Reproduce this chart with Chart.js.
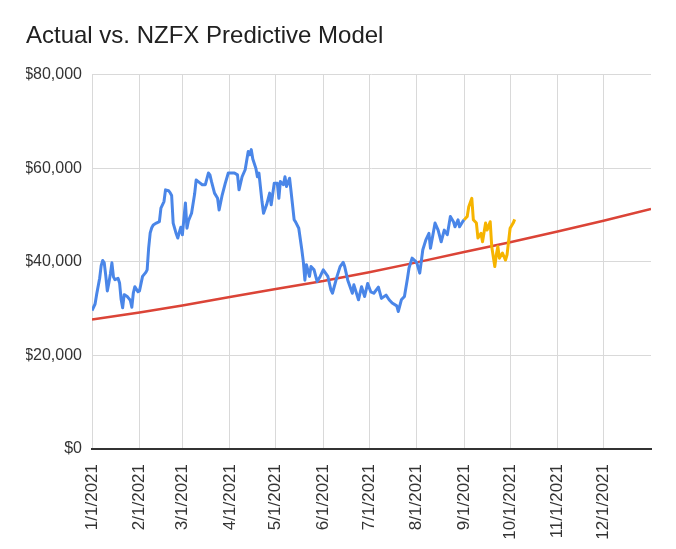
<!DOCTYPE html>
<html>
<head>
<meta charset="utf-8">
<script src="https://cdn.jsdelivr.net/npm/chart.js@4"></script>
<style>
  html, body { margin: 0; padding: 0; background: #fff; }
  #wrap { width: 676px; height: 549px; }
</style>
</head>
<body>
<div id="wrap"><canvas id="myChart" width="676" height="549"></canvas></div>
<script>
// x is the day of the year 2021 (0 = 1/1/2021)
const monthDays = [0, 31, 59, 90, 120, 151, 181, 212, 243, 273, 304, 334];
const monthLabels = ['1/1/2021', '2/1/2021', '3/1/2021', '4/1/2021', '5/1/2021', '6/1/2021',
  '7/1/2021', '8/1/2021', '9/1/2021', '10/1/2021', '11/1/2021', '12/1/2021'];
const yTicks = [0, 20000, 40000, 60000, 80000];

// actual price (blue)
const actualDays = [0, 2, 3, 5, 6, 7, 8, 9, 10, 11, 12, 13, 14, 15, 17, 18, 19, 20, 21, 23, 24, 25, 26, 27, 28, 30,
  31, 33, 35, 36, 37, 38, 39, 40, 42, 44, 45, 47, 48, 50, 51, 52, 53, 55, 56, 57, 58, 59, 61, 62, 63, 65, 67, 68,
  70, 72, 74, 76, 77, 78, 80, 82, 83, 85, 87, 89, 91, 93, 95, 96, 98, 100, 102, 103, 104, 105, 107, 108, 109, 111,
  112, 114, 116, 117, 119, 121, 122, 123, 125, 126, 127, 129, 130, 132, 133, 135, 137, 138, 139, 140, 142, 143, 145,
  147, 149, 151, 154, 156, 157, 160, 162, 164, 165, 167, 170, 171, 174, 176, 178, 180, 182, 184, 187, 189, 192, 194,
  196, 199, 200, 202, 204, 206, 207, 209, 212, 214, 216, 218, 220, 221, 224, 226, 228, 230, 232, 234, 236, 237, 239,
  240, 242, 243];
const actualValues = [29600, 31000, 33000, 36500, 39200, 40300, 39800, 37000, 33800, 35500, 37400, 39800, 36800,
  36200, 36500, 35500, 32000, 30200, 33000, 32600, 32200, 31800, 30300, 33400, 34700, 33600, 33800, 36900, 37700,
  38300, 43000, 46200, 47300, 47900, 48300, 48600, 51500, 52900, 55400, 55200, 54800, 54200, 48300, 46000, 45100,
  46300, 47400, 45800, 52600, 47200, 48800, 50400, 54500, 57500, 57000, 56500, 56500, 59000, 58600, 57200, 54700,
  53600, 51100, 54300, 56800, 59000, 59000, 59000, 58600, 55400, 58200, 59700, 63600, 62900, 64000, 62000, 60000,
  58200, 59000, 52900, 50400, 52200, 54700, 52200, 56800, 56800, 53600, 57200, 56500, 58200, 56100, 57900, 55000,
  49000, 48500, 47200, 42600, 40000, 36100, 39400, 36900, 39000, 38300, 35800, 36900, 38300, 36900, 34000, 33300,
  36900, 39000, 39900, 39000, 36100, 33300, 35100, 31900, 34700, 32600, 35400, 33600, 33300, 34600, 32200, 32900,
  31900, 31200, 30600, 29400, 31900, 32600, 36500, 38700, 40800, 39900, 37600, 42600, 44700, 46100, 42900, 48300,
  46800, 44300, 46800, 45800, 49700, 48600, 47500, 49000, 47500, 48600, 49000];

// latest price (yellow)
const recentDays = [243, 245, 246, 248, 249, 251, 252, 254, 255, 257, 258, 260, 261, 263, 264, 265, 266, 268, 270,
  271, 273, 275, 276];
const recentValues = [49000, 49700, 51800, 53600, 49000, 48300, 45100, 46100, 44300, 48300, 46800, 48600, 43300,
  39000, 41500, 43300, 40800, 41900, 40400, 41500, 47200, 48300, 49100];

// NZFX predictive model (red)
const modelDays = [0, 31, 59, 90, 120, 151, 181, 212, 243, 273, 304, 334, 365];
const modelValues = [27700, 29200, 30700, 32500, 34200, 35900, 37800, 39900, 42100, 44200, 46500, 48800, 51300];

function points(days, values) {
  return days.map((d, i) => ({ x: d, y: values[i] }));
}

const font = '"Liberation Sans", Arial, sans-serif';

const ctx = document.getElementById('myChart');

new Chart(ctx, {
  type: 'line',
  data: {
    datasets: [
      {
        label: 'Model',
        data: points(modelDays, modelValues),
        borderColor: '#db4437',
        borderWidth: 2.5,
        pointRadius: 0,
        order: 3
      },
      {
        label: 'Actual',
        data: points(actualDays, actualValues),
        borderColor: '#4a86e8',
        borderWidth: 3,
        borderJoinStyle: 'round',
        pointRadius: 0,
        order: 2
      },
      {
        label: 'Recent',
        data: points(recentDays, recentValues),
        borderColor: '#f6b400',
        borderWidth: 3,
        borderJoinStyle: 'round',
        pointRadius: 0,
        order: 1
      }
    ]
  },
  options: {
    responsive: false,
    animation: false,
    layout: { padding: { left: 26, right: 25, top: 0, bottom: 0 } },
    plugins: {
      legend: { display: false },
      tooltip: { enabled: false },
      title: {
        display: true,
        text: 'Actual vs. NZFX Predictive Model',
        align: 'start',
        color: '#212121',
        font: { family: font, size: 24, weight: 'normal' },
        padding: { top: 22, bottom: 24 }
      }
    },
    scales: {
      x: {
        type: 'linear',
        min: 0,
        max: 365,
        afterBuildTicks: (scale) => {
          scale.ticks = monthDays.map(d => ({ value: d }));
        },
        afterFit: (scale) => { scale.height = 100; },
        ticks: {
          autoSkip: false,
          maxRotation: 90,
          minRotation: 90,
          padding: 15,
          color: '#333',
          font: { family: font, size: 17 },
          callback: (v) => monthLabels[monthDays.indexOf(v)]
        },
        grid: { color: '#d9d9d9', drawTicks: false },
        border: { color: '#333', width: 2 }
      },
      y: {
        min: 0,
        max: 80000,
        afterBuildTicks: (scale) => {
          scale.ticks = yTicks.map(v => ({ value: v }));
        },
        afterFit: (scale) => { scale.width = 66; },
        ticks: {
          padding: 10,
          color: '#333',
          font: { family: font, size: 16 },
          callback: (v) => '$' + v.toLocaleString('en-US')
        },
        grid: { color: '#d9d9d9', drawTicks: false },
        border: { display: false }
      }
    }
  }
});
</script>
</body>
</html>
